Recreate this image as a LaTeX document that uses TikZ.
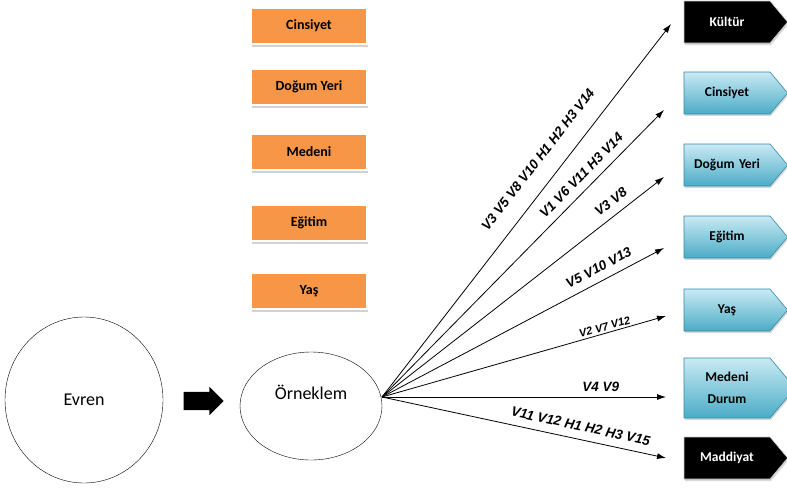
\documentclass[tikz,border=0pt]{standalone}
\usepackage{fontspec}
\setmainfont{Carlito}
\newfontfamily\arialfont{Liberation Sans}
\usetikzlibrary{shapes.geometric,shapes.symbols,shapes.arrows,shadows,arrows.meta}
\definecolor{turuncu}{HTML}{F79646}
\definecolor{acikmavi}{HTML}{C9EAF4}
\definecolor{mavi}{HTML}{4BACC6}
\definecolor{koyumavi}{HTML}{2F8AA3}

\begin{document}
\begin{tikzpicture}[x=1pt, y=-1pt,
	degisken/.style={rectangle, fill=turuncu, draw=white, line width=2.5pt, minimum width=116pt, minimum height=36pt, font=\bfseries\fontsize{14}{16}\selectfont, drop shadow={shadow xshift=1pt, shadow yshift=-2.5pt, fill=gray!70}},
	kutu/.style={signal, signal to=east, signal pointer angle=100, text width=82pt, minimum height=42pt, inner xsep=2pt, inner ysep=2pt, align=center, font=\bfseries\fontsize{13.5}{22}\selectfont, drop shadow={shadow xshift=1pt, shadow yshift=-2pt, fill=gray!60}},
	mavikutu/.style={kutu, draw=koyumavi, line width=0.6pt, top color=acikmavi, bottom color=mavi},
	siyahkutu/.style={kutu, fill=black, draw=gray!40, line width=0.6pt, text=white},
	ok/.style={-{Latex[length=9pt, width=6pt]}, line width=0.8pt},
	etiket/.style={font=\arialfont\bfseries\itshape\fontsize{13.5}{15}\selectfont, sloped, inner sep=1pt}]
	\useasboundingbox (0,0) rectangle (787,491);

	% orange variables
	\node[degisken] (cins) at (309,26) {Cinsiyet};
	\node[degisken] (dogum) at (309,87) {Doğum Yeri};
	\node[degisken] (medeni) at (309,152) {Medeni};
	\node[degisken] (egitim) at (309,223) {Eğitim};
	\node[degisken] (yas) at (309,291) {Yaş};

	\node[ellipse, draw, minimum width=158pt, minimum height=166pt, font=\fontsize{18}{21}\selectfont] (evren) at (84,400) {Evren};
	\node[single arrow, fill=black, minimum height=40pt, inner xsep=0pt, inner ysep=9pt, single arrow head extend=5pt] (blok) at (199,401) {};
	\node[ellipse, draw, minimum width=142pt, minimum height=108pt, label={[font=\fontsize{18}{21}\selectfont, yshift=14pt]center:Örneklem}] (orn) at (311,406) {};

	% results
	\node[siyahkutu] (kultur) at (727,22) {Kültür};
	\node[mavikutu] (rcins) at (727,93) {Cinsiyet};
	\node[mavikutu] (rdogum) at (727,165) {Doğum Yeri};
	\node[mavikutu] (regitim) at (727,237) {Eğitim};
	\node[mavikutu] (ryas) at (727,310) {Yaş};
	\node[mavikutu, minimum height=60pt] (rmedeni) at (727,388) {Medeni\\Durum};
	\node[siyahkutu] (maddi) at (727,458) {Maddiyat};

	\coordinate (hub) at (382,397);
	\coordinate (u1) at (671,24);
	\coordinate (u2) at (664,110);
	\coordinate (u3) at (664,177);
	\coordinate (u4) at (664,248);
	\coordinate (u5) at (666,316);
	\coordinate (u6) at (666,397);
	\coordinate (u7) at (666,458);

	\draw[ok] (hub) -- node[etiket, above=16pt, pos=0.6] {V3 V5 V8 V10 H1 H2 H3 V14} (u1);
	\draw[ok] (hub) -- node[etiket, above=7pt, pos=0.74] {V1 V6 V11 H3 V14} (u2);
	\draw[ok] (hub) -- node[etiket, above=7pt, pos=0.84] {V3 V8} (u3);
	\draw[ok] (hub) -- node[etiket, above=7pt, pos=0.79] {V5 V10 V13} (u4);
	\draw[ok] (hub) -- node[etiket, above=1pt, pos=0.79, font=\arialfont\bfseries\itshape\fontsize{11}{12}\selectfont] {V2 V7 V12} (u5);
	\draw[ok] (hub) -- node[etiket, above=4pt, pos=0.77] {V4 V9} (u6);
	\draw[ok] (hub) -- node[etiket, above=7pt, pos=0.69] {V11 V12 H1 H2 H3 V15} (u7);

%	\draw (evren) -- (orn);
\end{tikzpicture}
\end{document}
